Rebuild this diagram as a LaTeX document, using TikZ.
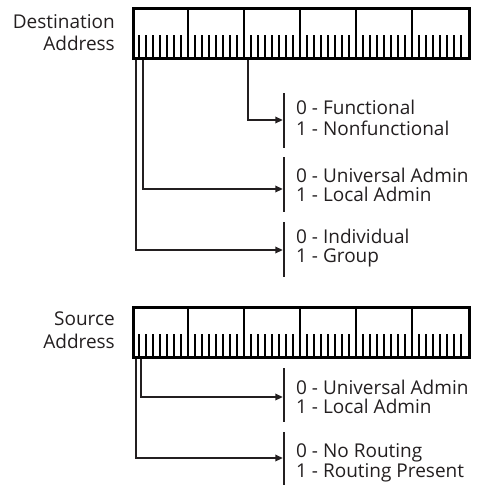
\documentclass[tikz,border=0pt]{standalone}
\usepackage{fontspec}
\setmainfont{Open Sans}
\usetikzlibrary{arrows.meta}
\definecolor{ink}{HTML}{231F20}
\begin{document}
\begin{tikzpicture}[x=1pt,y=-1pt,
  lbl/.style={font=\fontsize{19}{20}\selectfont, inner sep=0pt, text=ink},
  conn/.style={draw=ink, line width=2pt, shorten >=1.2pt,
    -{Triangle[length=7.5pt,width=6.5pt]}},
  bar/.style={draw=ink, line width=2pt},
  field/.pic={
    \node[draw=black, line width=2.6pt, minimum width=336pt, minimum height=50pt,
      inner sep=0pt, anchor=north west] (-box) at (0,0) {};
    % byte dividers
    \foreach \i in {1,...,5}
      \draw[line width=2pt] (\i*56,0) -- (\i*56,50);
    % bit ticks
    \foreach \k in {1,...,47}
      \draw[line width=2pt] (\k*7,28) -- (\k*7,50);
  }]
\useasboundingbox (0,0) rectangle (481,485);

% ---------- destination address ----------
\pic (dst) at (132,7) {field};
\node[lbl, anchor=base east] (dlab1) at (115,28) {Destination};
\node[lbl, anchor=base east] (dlab2) at (115,50) {Address};

\coordinate (d0) at ([xshift=4pt]dst-box.south west);
\coordinate (d1) at ([xshift=11pt]dst-box.south west);
\coordinate (d2) at ([xshift=116pt]dst-box.south west);

\draw[bar] (284,93) -- (284,148);
\draw[bar] (284,157) -- (284,212);
\draw[bar] (284,222) -- (284,277);
\coordinate (fbar) at (284,120);
\coordinate (ubar) at (284,189);
\coordinate (ibar) at (284,250);

\draw[conn] (d2) |- (fbar);
\draw[conn] (d1) |- (ubar);
\draw[conn] (d0) |- (ibar);

\node[lbl, anchor=base west] (f0) at (296,114) {0 - Functional};
\node[lbl, anchor=base west] (f1) at (296,135) {1 - Nonfunctional};
\node[lbl, anchor=base west] (u0) at (296,182.5) {0 - Universal Admin};
\node[lbl, anchor=base west] (u1) at (296,201.5) {1 - Local Admin};
\node[lbl, anchor=base west] (i0) at (296,243) {0 - Individual};
\node[lbl, anchor=base west] (i1) at (296,262.5) {1 - Group};

% ---------- source address ----------
\pic (src) at (132,306) {field};
\node[lbl, anchor=base east] (slab1) at (115,325) {Source};
\node[lbl, anchor=base east] (slab2) at (115,348) {Address};

\coordinate (s0) at ([xshift=4pt]src-box.south west);
\coordinate (s1) at ([xshift=9pt]src-box.south west);

\draw[bar] (284,368) -- (284,422);
\draw[bar] (284,432) -- (284,485);
\coordinate (sbar) at (284,397);
\coordinate (rbar) at (284,458);

\draw[conn] (s1) |- (sbar);
\draw[conn] (s0) |- (rbar);

\node[lbl, anchor=base west] (su0) at (296,394) {0 - Universal Admin};
\node[lbl, anchor=base west] (su1) at (296,413) {1 - Local Admin};
\node[lbl, anchor=base west] (r0) at (296,457) {0 - No Routing};
\node[lbl, anchor=base west] (r1) at (296,477) {1 - Routing Present};
\end{tikzpicture}
\end{document}
